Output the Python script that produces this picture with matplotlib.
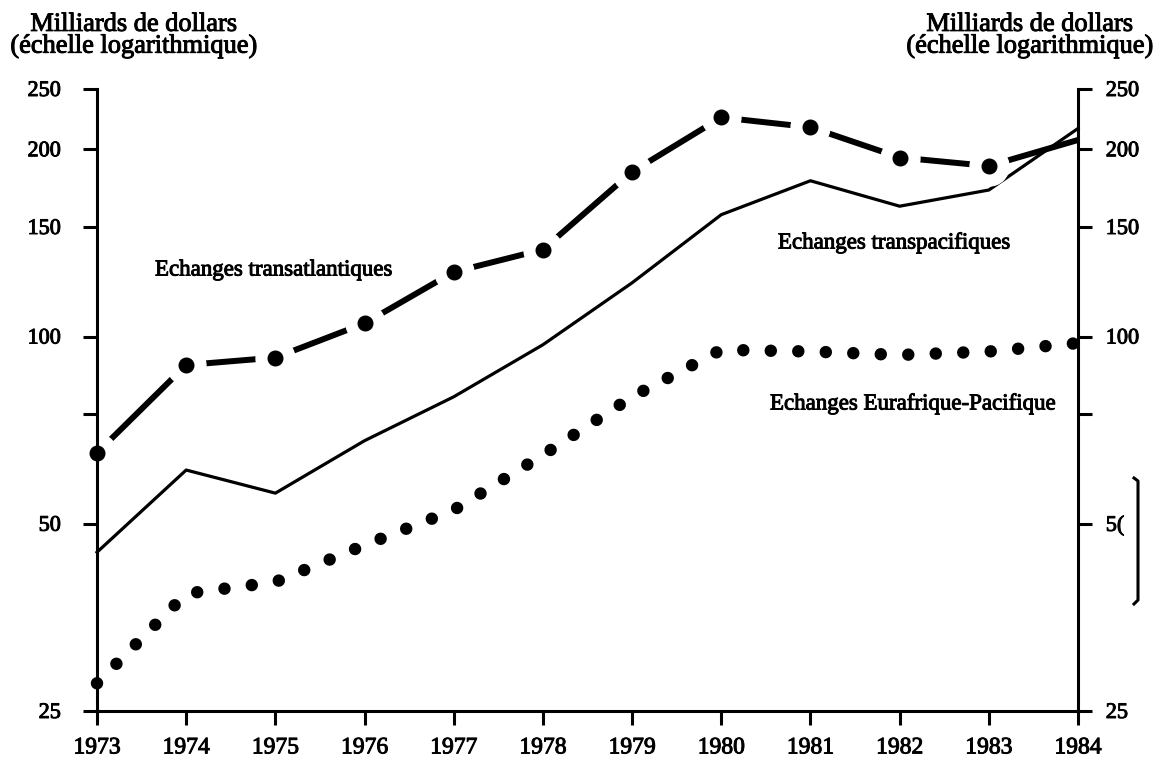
import matplotlib
matplotlib.use("Agg")
import matplotlib.pyplot as plt
import matplotlib.patheffects as pe
from matplotlib.ticker import FixedLocator, NullLocator
from matplotlib.lines import Line2D

plt.rcParams['font.family'] = ['Liberation Serif', 'DejaVu Serif']

years = [1973, 1974, 1975, 1976, 1977, 1978, 1979, 1980, 1981, 1982, 1983, 1984]
transatlantique = [65, 90, 92.5, 105, 127, 138, 184, 225, 217, 194, 188, 207]
transpacifique = [45, 61, 56, 68, 80, 97, 122, 157, 178, 162, 172, 216]
eurafrique = [27.7, 38.6, 40.3, 46.2, 52.6, 64.5, 80, 95.2, 94.6, 93.4, 94.6, 97.6]

yticks = [25, 50, 75, 100, 150, 200, 250]
yticklabels_left = ['25', '50', '', '100', '150', '200', '250']
yticklabels_right = ['25', '5(', '', '100', '150', '200', '250']

ink = [pe.withStroke(linewidth=0.7, foreground='black')]

fig = plt.figure(figsize=(11.55, 7.62), dpi=100)
ax = fig.add_axes([97 / 1155, 1 - 711 / 762, (1078 - 97) / 1155, (711 - 89) / 762])

# transpacifique : trait plein
ax.plot(years, transpacifique, color='black', lw=2.3, clip_on=False, zorder=2)

# transatlantique : tirets entre gros points
ax.plot(years, transatlantique, color='black', lw=4.3, solid_capstyle='butt',
        clip_on=False, zorder=2)
ax.plot(years[:11], transatlantique[:11], ls='none', marker='o', ms=28,
        mfc='white', mec='white', clip_on=False, zorder=2.05)
ax.plot(years[:11], transatlantique[:11], ls='none', marker='o', ms=10.5,
        mfc='black', mec='black', clip_on=False, zorder=2.1)

# Eurafrique-Pacifique : pointillés
ax.plot(years, eurafrique, color='black', lw=9, ls=(0, (0.001, 2.2)),
        dash_capstyle='round', clip_on=False, zorder=2)

ax.set_yscale('log')
ax.set_ylim(25, 250)
ax.set_xlim(1973, 1984)
ax.yaxis.set_major_locator(FixedLocator(yticks))
ax.yaxis.set_minor_locator(NullLocator())
ax.set_yticklabels(yticklabels_left)
ax.set_xticks(years)
ax.set_xticklabels([str(y) for y in years])

for s in ['left', 'right', 'bottom']:
    ax.spines[s].set_linewidth(2.2)
    ax.spines[s].set_zorder(3)
ax.spines['top'].set_visible(False)

ax.tick_params(axis='y', direction='out', length=10, width=2.2, pad=16, labelsize=16)
ax.tick_params(axis='x', direction='out', length=10, width=2.2, pad=9, labelsize=17)

ax2 = ax.twinx()
ax2.set_yscale('log')
ax2.set_ylim(25, 250)
ax2.yaxis.set_major_locator(FixedLocator(yticks))
ax2.yaxis.set_minor_locator(NullLocator())
ax2.set_yticklabels(yticklabels_right)
for s in ax2.spines.values():
    s.set_visible(False)
ax2.tick_params(axis='y', direction='out', length=10, width=2.2, pad=10, labelsize=16)

for t in ax.get_xticklabels() + ax.get_yticklabels() + ax2.get_yticklabels():
    t.set_path_effects(ink)

fig.text(134 / 1155, 1 - 36 / 762, "Milliards de dollars\n(échelle logarithmique)",
         ha='center', va='center', fontsize=19, linespacing=0.95, path_effects=ink)
fig.text(1030 / 1155, 1 - 36 / 762, "Milliards de dollars\n(échelle logarithmique)",
         ha='center', va='center', fontsize=19, linespacing=0.95, path_effects=ink)

fig.text(155 / 1155, 1 - 270 / 762, "Echanges transatlantiques", ha='left', va='center',
         fontsize=16.5, path_effects=ink)
fig.text(778 / 1155, 1 - 243 / 762, "Echanges transpacifiques", ha='left', va='center',
         fontsize=16.5, path_effects=ink)
fig.text(770 / 1155, 1 - 404 / 762, "Echanges Eurafrique-Pacifique", ha='left', va='center',
         fontsize=16.5, path_effects=ink)

# trait parasite du scan à droite
fig.add_artist(Line2D([1134 / 1155, 1138 / 1155, 1138 / 1155, 1134 / 1155],
                      [1 - 478 / 762, 1 - 481 / 762, 1 - 600 / 762, 1 - 604 / 762],
                      color='black', lw=2.2))

fig.savefig('out.png', dpi=100)
